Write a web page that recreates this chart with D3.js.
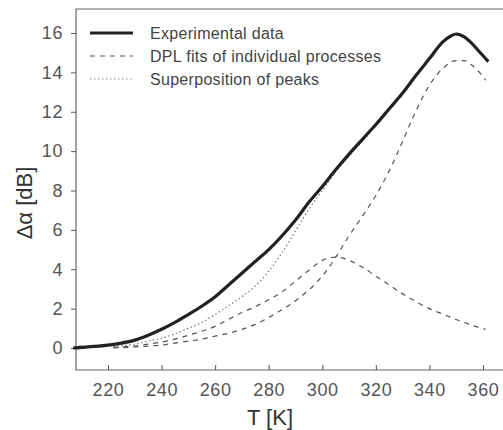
<!DOCTYPE html>
<html>
<head>
<meta charset="utf-8">
<script src="https://cdn.jsdelivr.net/npm/d3@7"></script>
<style>
  body { margin: 0; background: #fff; }
  svg { display: block; font-family: "Liberation Sans", Arial, sans-serif; }
</style>
</head>
<body>
<div id="chart"></div>
<script>
// data
var expT    = [207, 215, 220, 225, 230, 235, 240, 245, 250, 255, 260, 265, 270, 275, 280, 285, 290, 295, 300, 305, 310, 315, 320, 325, 330, 335, 340, 345, 348, 350, 353, 356, 359, 362];
var expVals = [0.0, 0.08, 0.15, 0.25, 0.4, 0.65, 0.95, 1.3, 1.7, 2.12, 2.6, 3.2, 3.8, 4.4, 5.0, 5.7, 6.5, 7.4, 8.2, 9.05, 9.85, 10.6, 11.35, 12.15, 12.95, 13.85, 14.7, 15.55, 15.85, 15.95, 15.8, 15.45, 15.0, 14.55];

var fitT      = [222, 225, 230, 235, 240, 245, 250, 255, 260, 265, 270, 275, 280, 285, 290, 295, 300, 305, 310, 315, 320, 325, 330, 335, 340, 345, 350, 353, 356, 359, 361];
var peak1Vals = [0.03, 0.05, 0.1, 0.2, 0.3, 0.45, 0.65, 0.85, 1.1, 1.45, 1.8, 2.1, 2.45, 2.85, 3.4, 3.95, 4.45, 4.62, 4.45, 4.1, 3.65, 3.2, 2.75, 2.35, 2.0, 1.72, 1.45, 1.3, 1.15, 1.02, 0.95];
var peak2Vals = [0.01, 0.02, 0.05, 0.1, 0.15, 0.25, 0.35, 0.45, 0.6, 0.75, 0.95, 1.2, 1.55, 1.95, 2.4, 2.95, 3.65, 4.6, 5.7, 6.7, 7.75, 9.0, 10.5, 12.05, 13.35, 14.2, 14.6, 14.6, 14.35, 13.95, 13.6];

var sumT    = [222, 230, 235, 240, 245, 250, 255, 260, 265, 270, 275, 280, 285, 290, 295, 300, 305, 310, 315, 320, 325, 330, 335, 340, 345, 350, 355, 360];
var sumVals = [0.08, 0.2, 0.35, 0.5, 0.72, 1.0, 1.3, 1.7, 2.15, 2.6, 3.15, 3.9, 4.85, 5.95, 7.05, 8.0, 8.95, 9.75, 10.5, 11.3, 12.1, 12.9, 13.8, 14.65, 15.5, 15.9, 15.6, 14.8];

var xTicks = [220, 240, 260, 280, 300, 320, 340, 360];
var yTicks = [0, 2, 4, 6, 8, 10, 12, 14, 16];

var legendLabels = ["Experimental data", "DPL fits of individual processes", "Superposition of peaks"];

(function(){
    var width = 503, height = 430;
    var left = 76, right = 503, top = 9, bottom = 370;

    var x = d3.scaleLinear().domain([208.05, 367.47]).range([left, right]);
    var y = d3.scaleLinear().domain([-1.117, 17.22]).range([bottom, top]);

    var svg = d3.select("#chart").append("svg")
        .attr("width", width)
        .attr("height", height);

    function pts(ts, vs){
        return ts.map(function(d, i){ return [d, vs[i]]; });
    }

    var line = d3.line()
        .x(function(d){ return x(d[0]); })
        .y(function(d){ return y(d[1]); })
        .curve(d3.curveMonotoneX);

    // frame
    svg.append("path")
        .attr("d", "M" + right + "," + top + "H" + left + "V" + bottom + "H" + right)
        .attr("fill", "none")
        .attr("stroke", "#666")
        .attr("stroke-width", 1.2);

    // y axis
    var yAxis = d3.axisLeft(y).tickValues(yTicks).tickSize(5).tickPadding(8);
    var gy = svg.append("g").attr("transform", "translate(" + left + ",0)").call(yAxis);
    gy.select(".domain").remove();
    gy.selectAll("line").attr("stroke", "#555");
    gy.selectAll("text")
        .attr("fill", "#555")
        .style("font-size", "18px")
        .style("letter-spacing", "0.6px");

    // x axis, ticks point inward
    var xAxis = d3.axisBottom(x).tickValues(xTicks).tickSize(-5).tickPadding(13);
    var gx = svg.append("g").attr("transform", "translate(0," + bottom + ")").call(xAxis);
    gx.select(".domain").remove();
    gx.selectAll("line").attr("stroke", "#555");
    gx.selectAll("text")
        .attr("fill", "#555")
        .style("font-size", "18px")
        .style("letter-spacing", "0.6px");

    // axis titles
    svg.append("text")
        .attr("x", 270).attr("y", 425)
        .attr("text-anchor", "middle")
        .attr("fill", "#333")
        .style("font-size", "22px")
        .text("T [K]");

    svg.append("text")
        .attr("transform", "translate(32,203) rotate(-90)")
        .attr("text-anchor", "middle")
        .attr("fill", "#333")
        .style("font-size", "22px")
        .text("\u0394\u03b1 [dB]");

    // curves
    svg.append("path")
        .attr("d", line(pts(sumT, sumVals)))
        .attr("fill", "none")
        .attr("stroke", "#777")
        .attr("stroke-width", 1.2)
        .attr("stroke-dasharray", "1.5,2.5");

    [peak1Vals, peak2Vals].forEach(function(vals){
        svg.append("path")
            .attr("d", line(pts(fitT, vals)))
            .attr("fill", "none")
            .attr("stroke", "#555")
            .attr("stroke-width", 1.2)
            .attr("stroke-dasharray", "5,5");
    });

    svg.append("path")
        .attr("d", line(pts(expT, expVals)))
        .attr("fill", "none")
        .attr("stroke", "#222")
        .attr("stroke-width", 3.2)
        .attr("stroke-linejoin", "round");

    // legend
    var styles = [
        {stroke: "#222", w: 3.2, dash: null},
        {stroke: "#555", w: 1.2, dash: "5,5"},
        {stroke: "#888", w: 1.2, dash: "1.5,2.5"}
    ];
    var rows = [33, 56, 79];
    legendLabels.forEach(function(label, i){
        var s = styles[i];
        svg.append("line")
            .attr("x1", 90).attr("x2", 133)
            .attr("y1", rows[i]).attr("y2", rows[i])
            .attr("stroke", s.stroke)
            .attr("stroke-width", s.w)
            .attr("stroke-dasharray", s.dash);
        svg.append("text")
            .attr("x", 150).attr("y", rows[i] + 5.5)
            .attr("fill", "#444")
            .style("font-size", "16px")
            .style("letter-spacing", "0.3px")
            .text(label);
    });
})();
</script>
</body>
</html>
